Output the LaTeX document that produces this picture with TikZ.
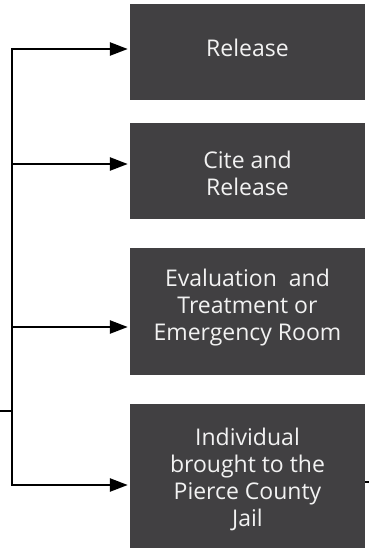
\documentclass[tikz,border=0pt]{standalone}
\usepackage{fontspec}
\setmainfont{Open Sans}
\usetikzlibrary{arrows.meta}
\definecolor{boxgray}{HTML}{414042}
\definecolor{boxtext}{HTML}{F2F2F2}
\newcommand{\boxlines}[1]{\begin{tabular}[t]{@{}c@{}}#1\end{tabular}}
\begin{document}
\begin{tikzpicture}[x=1pt,y=-1pt,
  outcome/.style={draw=none,fill=boxgray,minimum width=235pt,inner sep=0pt},
  boxlabel/.style={text=boxtext,inner sep=0pt,anchor=base,
    font=\fontsize{23}{27}\selectfont},
  conn/.style={line width=2.6pt},
  arr/.style={conn,-{Triangle[length=18pt,width=13pt]},shorten >=2pt}]
\useasboundingbox (0,0) rectangle (369,550);
\node[outcome,minimum height=96pt] (b1) at (247.5,52) {};
\node[outcome,minimum height=96pt] (b2) at (247.5,171) {};
\node[outcome,minimum height=127pt] (b3) at (247.5,311.5) {};
\node[outcome,minimum height=144pt] (b4) at (247.5,476) {};
\node[boxlabel] (l1) at (247.5,56) {Release};
\node[boxlabel] (l2) at (247.5,168) {\boxlines{Cite and\\Release}};
\node[boxlabel] (l3) at (247.5,286.5) {\boxlines{Evaluation\ \ and\\Treatment or\\Emergency Room}};
\node[boxlabel] (l4) at (247.5,445) {\boxlines{Individual\\brought to the\\Pierce County\\Jail}};
\coordinate (t1) at (12,49);
\coordinate (t2) at (12,164);
\coordinate (t3) at (12,327);
\coordinate (t4) at (12,485);
\coordinate (tin) at (12,411);
\coordinate (lin) at (0,411);
\coordinate (rout) at (369,482);
\draw[conn,line cap=rect] (t1) -- (t4);
\draw[conn] (lin) -- (tin);
\draw[arr] (t1) -- (t1 -| b1.west);
\draw[arr] (t2) -- (t2 -| b2.west);
\draw[arr] (t3) -- (t3 -| b3.west);
\draw[arr] (t4) -- (t4 -| b4.west);
\draw[conn,line width=1.6pt] (rout -| b4.east) -- (rout);
\end{tikzpicture}
\end{document}
